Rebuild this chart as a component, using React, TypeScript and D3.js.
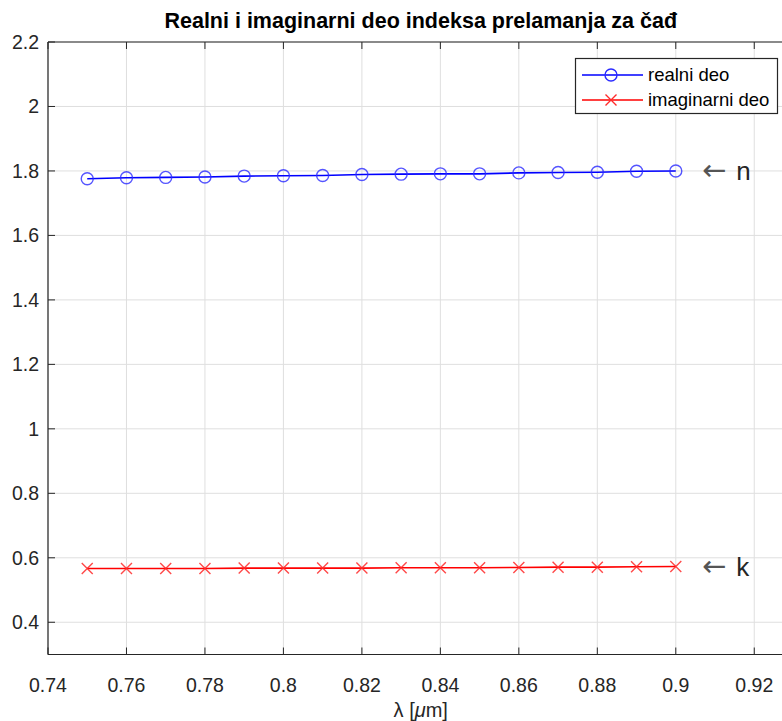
import React from "react";
import * as d3 from "d3";

const wavelengths = [0.75, 0.76, 0.77, 0.78, 0.79, 0.8, 0.81, 0.82, 0.83, 0.84, 0.85, 0.86, 0.87, 0.88, 0.89, 0.9];
const realValues = [1.776, 1.779, 1.780, 1.781, 1.784, 1.785, 1.786, 1.789, 1.790, 1.791, 1.791, 1.794, 1.795, 1.796, 1.799, 1.800];
const imagValues = [0.567, 0.567, 0.567, 0.567, 0.568, 0.568, 0.568, 0.568, 0.569, 0.569, 0.569, 0.570, 0.571, 0.571, 0.572, 0.573];
const xTicks = [0.74, 0.76, 0.78, 0.8, 0.82, 0.84, 0.86, 0.88, 0.9, 0.92];
const yTicks = [0.4, 0.6, 0.8, 1, 1.2, 1.4, 1.6, 1.8, 2, 2.2];
const seriesNames = ["realni deo", "imaginarni deo"];
const titleText = "Realni i imaginarni deo indeksa prelamanja za čađ";

export default function App() {
  const W = 782, H = 721;
  const left = 48, right = 793.5, top = 42, bottom = 654.5;
  const x = d3.scaleLinear().domain([0.74, 0.93]).range([left, right]);
  const y = d3.scaleLinear().domain([0.3, 2.2]).range([bottom, top]);
  const font = "'Liberation Sans', Arial, Helvetica, sans-serif";
  const axisColor = "#262626";
  const line = d3.line<number>().x((_, i) => x(wavelengths[i])).y((d) => y(d));
  const tl = 7;
  const fmt = (v: number) => String(+v.toFixed(2));

  return (
    <div style={{ position: "fixed", left: 0, top: 0, width: W, height: H, overflow: "hidden" }}>
      <svg width={W} height={H} style={{ display: "block", background: "#fff" }} fontFamily={font}>
        <rect x={0} y={0} width={W} height={H} fill="#fff" />
        {/* grid */}
        {xTicks.map((t) => (
          <line key={"gx" + t} x1={x(t)} x2={x(t)} y1={top} y2={bottom} stroke="#dfdfdf" strokeWidth={1} />
        ))}
        {yTicks.map((t) => (
          <line key={"gy" + t} x1={left} x2={right} y1={y(t)} y2={y(t)} stroke="#dfdfdf" strokeWidth={1} />
        ))}
        {/* series */}
        <path d={line(realValues) || ""} fill="none" stroke="#0000ff" strokeWidth={1.6} />
        {realValues.map((v, i) => (
          <circle key={"c" + i} cx={x(wavelengths[i])} cy={y(v)} r={6} fill="none" stroke="#2a2aff" strokeWidth={1.4} opacity={0.8} />
        ))}
        <path d={line(imagValues) || ""} fill="none" stroke="#ff0000" strokeWidth={1.6} />
        {imagValues.map((v, i) => {
          const cx = x(wavelengths[i]), cy = y(v), s = 5.5;
          return (
            <path key={"x" + i} d={`M${cx - s},${cy - s}L${cx + s},${cy + s}M${cx - s},${cy + s}L${cx + s},${cy - s}`} stroke="#ff2a2a" strokeWidth={1.4} opacity={0.85} />
          );
        })}
        {/* axes box */}
        <line x1={left} x2={right} y1={bottom} y2={bottom} stroke={axisColor} strokeWidth={1.2} />
        <line x1={left} x2={right} y1={top} y2={top} stroke={axisColor} strokeWidth={1.2} />
        <line x1={left} x2={left} y1={top} y2={bottom} stroke={axisColor} strokeWidth={1.2} />
        {xTicks.map((t) => (
          <g key={"tx" + t}>
            <line x1={x(t)} x2={x(t)} y1={bottom} y2={bottom - tl} stroke={axisColor} />
            <line x1={x(t)} x2={x(t)} y1={top} y2={top + tl} stroke={axisColor} />
            <text x={x(t)} y={692} textAnchor="middle" fontSize={19.5} fill={axisColor}>{fmt(t)}</text>
          </g>
        ))}
        {yTicks.map((t) => (
          <g key={"ty" + t}>
            <line x1={left} x2={left + tl} y1={y(t)} y2={y(t)} stroke={axisColor} />
            <text x={left - 9} y={y(t)} dy="0.36em" textAnchor="end" fontSize={19.5} fill={axisColor}>{fmt(t)}</text>
          </g>
        ))}
        {/* title and labels */}
        <text x={(left + right) / 2} y={28} textAnchor="middle" fontSize={21.5} fontWeight="bold" fill="#000">{titleText}</text>
        <text x={(left + right) / 2} y={717} textAnchor="middle" fontSize={20} fill={axisColor}>
          <tspan>λ [</tspan><tspan fontStyle="italic">μ</tspan><tspan>m]</tspan>
        </text>
        {/* annotations */}
        <text x={702} y={y(1.8)} dy="0.35em" fontSize={26} fill={axisColor}>
          <tspan fontFamily="'DejaVu Sans', sans-serif" fontSize={29} fill="#555">←</tspan><tspan dx={10}>n</tspan>
        </text>
        <text x={702} y={y(0.573)} dy="0.35em" fontSize={26} fill={axisColor}>
          <tspan fontFamily="'DejaVu Sans', sans-serif" fontSize={29} fill="#555">←</tspan><tspan dx={10}>k</tspan>
        </text>
        {/* legend */}
        <rect x={575.5} y={58.5} width={202} height={55} fill="#fff" stroke={axisColor} strokeWidth={1.2} />
        <line x1={582} x2={643} y1={75} y2={75} stroke="#0000ff" strokeWidth={1.6} />
        <circle cx={611} cy={75} r={6} fill="none" stroke="#2a2aff" strokeWidth={1.4} />
        <text x={648} y={75} dy="0.35em" fontSize={18.5} fill="#000">{seriesNames[0]}</text>
        <line x1={582} x2={643} y1={100} y2={100} stroke="#ff0000" strokeWidth={1.6} />
        <path d="M605.5,94.5L616.5,105.5M605.5,105.5L616.5,94.5" stroke="#ff2a2a" strokeWidth={1.4} />
        <text x={648} y={100} dy="0.35em" fontSize={18.5} fill="#000">{seriesNames[1]}</text>
      </svg>
    </div>
  );
}
